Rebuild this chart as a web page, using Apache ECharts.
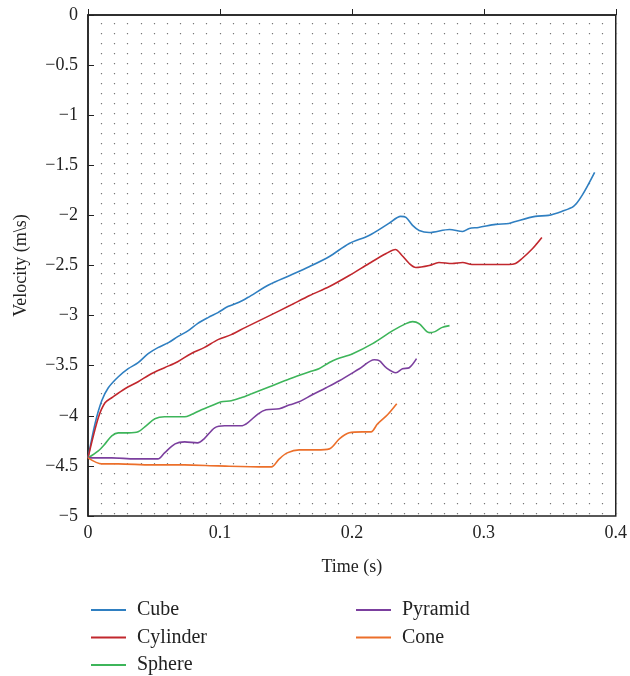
<!DOCTYPE html>
<html>
<head>
<meta charset="utf-8">
<script src="https://cdn.jsdelivr.net/npm/echarts@6/dist/echarts.min.js"></script>
<style>
  html, body { margin: 0; padding: 0; background: #fff; }
  #chart { width: 630px; height: 676px; }
</style>
</head>
<body>
<div id="chart"></div>
<script>
// values, [time (s), velocity (m/s)]
const cube = [
  [0, -4.42], [0.0053, -4.08], [0.0104, -3.85], [0.0154, -3.72], [0.023, -3.61],
  [0.0305, -3.53], [0.038, -3.47], [0.0456, -3.38], [0.053, -3.32], [0.061, -3.27],
  [0.068, -3.21], [0.076, -3.15], [0.083, -3.08], [0.091, -3.02], [0.0985, -2.97],
  [0.106, -2.91], [0.114, -2.87], [0.121, -2.82], [0.1376, -2.69], [0.153, -2.6],
  [0.168, -2.51], [0.183, -2.41], [0.198, -2.28], [0.213, -2.2], [0.228, -2.08],
  [0.237, -2.01], [0.241, -2.02], [0.246, -2.1], [0.251, -2.15], [0.2586, -2.17],
  [0.274, -2.14], [0.284, -2.16], [0.289, -2.13], [0.296, -2.12], [0.309, -2.09],
  [0.319, -2.08], [0.324, -2.06], [0.339, -2.01], [0.349, -2.0], [0.359, -1.96],
  [0.368, -1.91], [0.3745, -1.8], [0.384, -1.57]
];
const cylinder = [
  [0, -4.42], [0.0078, -4.02], [0.0129, -3.87], [0.018, -3.82], [0.028, -3.73],
  [0.038, -3.66], [0.048, -3.58], [0.058, -3.52], [0.068, -3.46], [0.078, -3.38],
  [0.088, -3.32], [0.0985, -3.24], [0.1086, -3.19], [0.119, -3.12], [0.1376, -3.0],
  [0.153, -2.9], [0.168, -2.8], [0.183, -2.71], [0.198, -2.6], [0.213, -2.48],
  [0.226, -2.38], [0.233, -2.34], [0.238, -2.4], [0.2435, -2.48], [0.2485, -2.52],
  [0.2586, -2.5], [0.266, -2.47], [0.276, -2.48], [0.284, -2.47], [0.291, -2.49],
  [0.3015, -2.49], [0.319, -2.49], [0.324, -2.48], [0.329, -2.43], [0.337, -2.33],
  [0.344, -2.22]
];
const sphere = [
  [0, -4.42], [0.0078, -4.35], [0.0129, -4.28], [0.018, -4.2], [0.023, -4.17],
  [0.0305, -4.17], [0.038, -4.16], [0.044, -4.1], [0.0507, -4.03], [0.058, -4.01],
  [0.0733, -4.01], [0.078, -3.99], [0.086, -3.94], [0.0935, -3.9], [0.101, -3.86],
  [0.1086, -3.85], [0.116, -3.82], [0.124, -3.78], [0.1376, -3.71], [0.153, -3.63],
  [0.168, -3.56], [0.175, -3.53], [0.1855, -3.45], [0.2006, -3.38], [0.2157, -3.28],
  [0.231, -3.15], [0.241, -3.08], [0.246, -3.06], [0.251, -3.08], [0.2586, -3.17],
  [0.263, -3.16], [0.268, -3.12], [0.274, -3.1]
];
const pyramid = [
  [0, -4.42], [0.0053, -4.42], [0.018, -4.42], [0.0355, -4.43], [0.053, -4.43],
  [0.058, -4.37], [0.066, -4.28], [0.0733, -4.26], [0.083, -4.27], [0.088, -4.23],
  [0.096, -4.12], [0.1036, -4.1], [0.116, -4.1], [0.121, -4.07], [0.129, -3.98],
  [0.135, -3.94], [0.145, -3.93], [0.153, -3.89], [0.16, -3.86], [0.17, -3.79],
  [0.1805, -3.72], [0.1905, -3.65], [0.2057, -3.53], [0.217, -3.44], [0.2208, -3.45],
  [0.226, -3.52], [0.2334, -3.57], [0.2384, -3.53], [0.2435, -3.52], [0.249, -3.43]
];
const cone = [
  [0, -4.42], [0.0104, -4.48], [0.023, -4.48], [0.048, -4.49], [0.073, -4.49],
  [0.0985, -4.5], [0.134, -4.51], [0.139, -4.51], [0.145, -4.43], [0.151, -4.37],
  [0.16, -4.34], [0.173, -4.34], [0.183, -4.33], [0.1905, -4.23], [0.198, -4.17],
  [0.208, -4.16], [0.2145, -4.16], [0.2195, -4.08], [0.227, -3.99], [0.234, -3.88]
];

const seriesNames = ['Cube', 'Cylinder', 'Sphere', 'Pyramid', 'Cone'];
const seriesData = [cube, cylinder, sphere, pyramid, cone];
const colors = ['#2f7fc1', '#c1272d', '#3db55a', '#7b3f9e', '#ec6f2a'];

const font = 'Liberation Serif';
const legendText = { fontFamily: font, fontSize: 20, color: '#222', lineHeight: 19, padding: [0, 0, 0, 6] };

const chart = echarts.init(document.getElementById('chart'));

chart.setOption({
  animation: false,
  backgroundColor: '#fff',
  grid: {
    left: 88, right: 13, top: 15, bottom: 160,
    show: true, borderColor: '#222', borderWidth: 1.5
  },
  legend: [
    {
      data: seriesNames.slice(0, 3),
      orient: 'vertical',
      left: 86, top: 595, height: 80,
      icon: 'rect', itemWidth: 35, itemHeight: 2, itemGap: 7.5,
      textStyle: legendText
    },
    {
      data: seriesNames.slice(3),
      orient: 'vertical',
      left: 351, top: 595, height: 80,
      icon: 'rect', itemWidth: 35, itemHeight: 2, itemGap: 7.5,
      textStyle: legendText
    }
  ],
  xAxis: {
    type: 'value',
    min: 0, max: 0.4, interval: 0.1,
    name: 'Time (s)',
    nameLocation: 'middle',
    nameGap: 42,
    nameTextStyle: { fontFamily: font, fontSize: 18, color: '#222' },
    axisLine: { lineStyle: { color: '#222', width: 1.5 } },
    axisTick: { inside: true, length: 6, lineStyle: { color: '#222' } },
    axisLabel: { fontFamily: font, fontSize: 18, color: '#222', margin: 8 },
    splitLine: { show: true, lineStyle: { color: '#777', width: 1.2, type: [1.2, 8.8], dashOffset: 2 } },
    minorTick: { show: false, splitNumber: 10 },
    minorSplitLine: { show: true, lineStyle: { color: '#777', width: 1.2, type: [1.2, 8.8], dashOffset: 2 } }
  },
  yAxis: {
    type: 'value',
    min: -5, max: 0, interval: 0.5,
    name: 'Velocity (m\\s)',
    nameLocation: 'middle',
    nameGap: 58,
    nameTextStyle: { fontFamily: font, fontSize: 18, color: '#222' },
    axisLine: { show: true, lineStyle: { color: '#222', width: 1.5 } },
    axisTick: { inside: true, length: 6, lineStyle: { color: '#222' } },
    axisLabel: {
      fontFamily: font, fontSize: 18, color: '#222', margin: 10,
      formatter: (v) => String(v).replace('-', '\u2212')
    },
    splitLine: { show: false }
  },
  series: seriesNames.map((name, i) => ({
    name,
    type: 'line',
    data: seriesData[i],
    smooth: 0.3,
    showSymbol: false,
    lineStyle: { color: colors[i], width: 1.6 },
    itemStyle: { color: colors[i] }
  }))
});
</script>
</body>
</html>
